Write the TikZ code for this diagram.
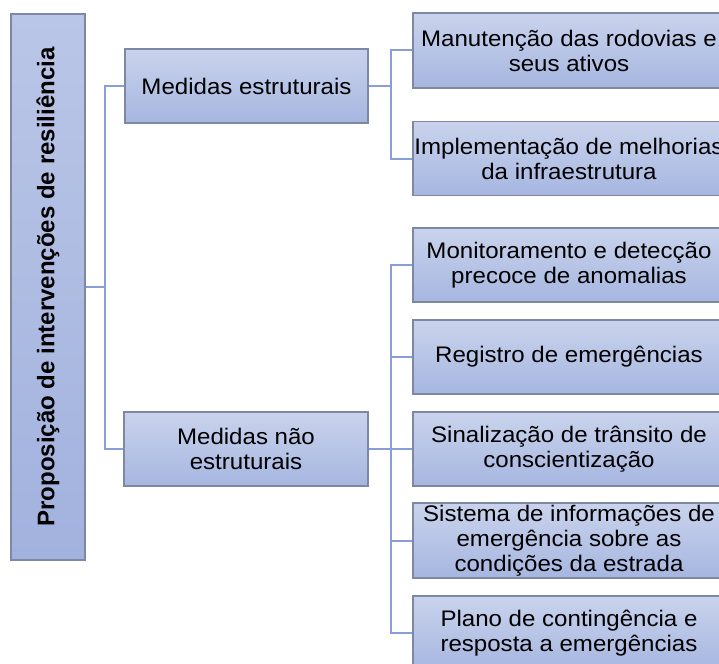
\documentclass[tikz,border=0pt]{standalone}
\usepackage{fontspec}
\setmainfont{Liberation Sans}
\newfontfamily\boxfont[FakeStretch=1.07]{Liberation Sans}
\newfontfamily\rootfont{Liberation Sans}
\definecolor{boxtop}{RGB}{201,211,236}
\definecolor{boxbot}{RGB}{166,182,224}
\definecolor{roottop}{RGB}{186,198,231}
\definecolor{rootbot}{RGB}{162,178,222}
\definecolor{boxline}{RGB}{124,136,164}
\definecolor{conn}{RGB}{136,158,212}
\tikzset{
  gbox/.style={draw=boxline, line width=1.1bp, top color=boxtop, bottom color=boxbot,
    inner sep=0pt, align=center, font=\boxfont\fontsize{22.5bp}{25bp}\selectfont, text=black},
  connline/.style={draw=conn, line width=2bp},
}
\begin{document}
\begin{tikzpicture}[x=1bp,y=-1bp]
\useasboundingbox (0,0) rectangle (719,664);
\clip (0,0) rectangle (719,664);
\node[gbox, top color=roottop, bottom color=rootbot, minimum width=74bp, minimum height=546bp] (root) at (48,287)
  {\rotatebox{90}{\rootfont\bfseries\fontsize{24bp}{28bp}\selectfont Proposição de intervenções de resiliência}};
\node[gbox, minimum width=243bp, minimum height=74bp] (ms) at (246.5,86) {Medidas estruturais};
\node[gbox, minimum width=244bp, minimum height=74bp] (mn) at (246,449) {Medidas não\\estruturais};
\node[gbox, minimum width=312bp, minimum height=75bp] (r1) at (569,50.5) {Manutenção das rodovias e\\seus ativos};
\node[gbox, minimum width=312bp, minimum height=74bp] (r2) at (569,158.5) {Implementação de melhorias\\da infraestrutura};
\node[gbox, minimum width=312bp, minimum height=74bp] (r3) at (569,265) {Monitoramento e detecção\\precoce de anomalias};
\node[gbox, minimum width=312bp, minimum height=74bp] (r4) at (569,357) {Registro de emergências};
\node[gbox, minimum width=312bp, minimum height=74bp] (r5) at (569,449) {Sinalização de trânsito de\\conscientização};
\node[gbox, minimum width=312bp, minimum height=75bp] (r6) at (569,540.5) {Sistema de informações de\\emergência sobre as\\condições da estrada};
\node[gbox, minimum width=312bp, minimum height=74bp] (r7) at (569,633) {Plano de contingência e\\resposta a emergências};
\coordinate (j0) at (105,287);
\coordinate (j1) at (391,86);
\coordinate (j2) at (391,449);
\draw[connline] (root.east) -- (j0);
\draw[connline] (j0) |- (ms.west);
\draw[connline] (j0) |- (mn.west);
\draw[connline] (ms.east) -- (j1);
\draw[connline] (j1) |- (r1.west);
\draw[connline] (j1) |- (r2.west);
\draw[connline] (mn.east) -- (j2);
\draw[connline] (j2) |- (r3.west);
\draw[connline] (j2) |- (r4.west);
\draw[connline] (j2) |- (r5.west);
\draw[connline] (j2) |- (r6.west);
\draw[connline] (j2) |- (r7.west);
\end{tikzpicture}
\end{document}
